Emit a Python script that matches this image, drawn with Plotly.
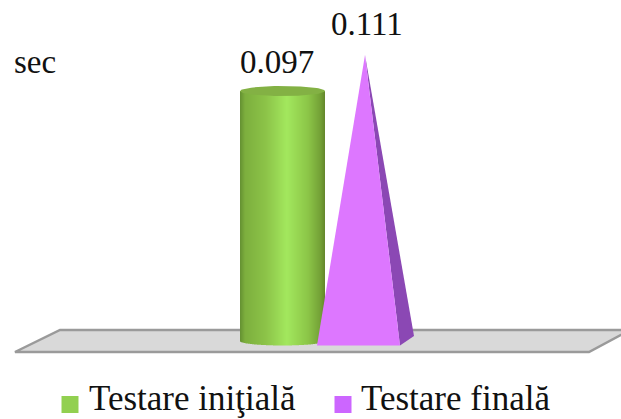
import numpy as np
import plotly.graph_objects as go

# Series values
series_names = ["Testare iniţială", "Testare finală"]
series_values = [0.097, 0.111]
value_labels = ["0.097", "0.111"]
unit_label = "sec"
legend_colors = ["#92D050", "#CC66FF"]

# Canvas and the vertical scale of the value axis (pixels per second)
W, H = 621, 419
SCALE = 2577.0
BASE_PX = 341.0


def dy(px):
    """Pixel distance expressed in axis units."""
    return px / SCALE


def py(px):
    """Pixel row expressed as an axis value."""
    return (BASE_PX - px) / SCALE


fig = go.Figure()

# Floor of the 3D scene
fig.add_shape(
    type="path",
    path=(f"M 15 {py(352)} L 60 {py(330)} L 630 {py(330)} "
          f"L 589 {py(352)} Z"),
    fillcolor="#D9D9D9",
    line=dict(color="#9A9A9A", width=2.5),
    layer="below",
)

# Cylinder: one-pixel vertical strips carrying the shading
cyl_left, cyl_right = 240, 325
strip_x = np.arange(cyl_left, cyl_right) + 0.5
cx = (cyl_left + cyl_right) / 2
rx = (cyl_right - cyl_left) / 2
t = (strip_x - cx) / rx
ry_bottom = 4.5
ry_top = 5.0

shade_pos = [0.0, 0.06, 0.3, 0.55, 0.8, 0.95, 1.0]
shade_r = [100, 125, 140, 163, 140, 115, 100]
shade_g = [145, 175, 195, 232, 198, 160, 135]
shade_b = [50, 62, 72, 94, 72, 54, 44]
u = (t + 1) / 2
strip_colors = [
    f"rgb({int(np.interp(v, shade_pos, shade_r))},"
    f"{int(np.interp(v, shade_pos, shade_g))},"
    f"{int(np.interp(v, shade_pos, shade_b))})"
    for v in u
]
strip_base = -dy(ry_bottom) * np.sqrt(1 - t ** 2)
strip_top = np.full_like(strip_x, series_values[0])
fig.add_trace(go.Bar(
    x=strip_x,
    y=strip_top - strip_base,
    base=strip_base,
    width=1.0,
    marker=dict(color=strip_colors, line=dict(width=0)),
    hoverinfo="skip",
))

# Cylinder cap
theta = np.linspace(0, 2 * np.pi, 90)
fig.add_trace(go.Scatter(
    x=cx + rx * np.cos(theta),
    y=series_values[0] + dy(ry_top) * np.sin(theta),
    mode="lines",
    line=dict(width=0),
    fill="toself",
    fillcolor="#83B144",
    hoverinfo="skip",
))

# Pyramid: side face, then front face, both rising to the series value
tip_x = 365
fig.add_trace(go.Scatter(
    x=[400, 414, tip_x, 400],
    y=[py(345.5), py(336), series_values[1], py(345.5)],
    mode="lines",
    line=dict(width=0),
    fill="toself",
    fillcolor="#8B48B4",
    hoverinfo="skip",
))
fig.add_trace(go.Scatter(
    x=[317, 400, tip_x, 317],
    y=[py(345.5), py(345.5), series_values[1], py(345.5)],
    mode="lines",
    line=dict(width=0),
    fill="toself",
    fillcolor="#DD77FF",
    hoverinfo="skip",
))

# Key below the scene: a square swatch and a caption for each series
key_swatch_x = [70, 343]
key_text_x = [88, 360]
fig.add_trace(go.Scatter(
    x=key_swatch_x,
    y=[py(404.5)] * 2,
    mode="markers",
    marker=dict(symbol="square", size=17, color=legend_colors, line=dict(width=0)),
    hoverinfo="skip",
))
for x, name in zip(key_text_x, series_names):
    fig.add_annotation(
        x=x, y=py(398.5), text=name, showarrow=False, xanchor="left", xshift=-1,
        yanchor="middle",
        font=dict(family="Liberation Serif", size=35, color="#111111"),
    )

# Value labels and the unit
label_font = dict(family="Liberation Serif", size=33, color="#111111")
for x, shift, value, text in zip([277, 367], [9, 11], series_values, value_labels):
    fig.add_annotation(
        x=x, y=value, text=text, showarrow=False, yshift=shift,
        yanchor="bottom", font=label_font,
    )
fig.add_annotation(
    x=13, y=py(62), text=unit_label, showarrow=False, xanchor="left", xshift=-1,
    yanchor="middle", font=label_font,
)

fig.update_layout(
    width=W,
    height=H,
    margin=dict(l=0, r=0, t=0, b=0),
    paper_bgcolor="white",
    plot_bgcolor="white",
    barmode="overlay",
    xaxis=dict(range=[0, W], visible=False, fixedrange=True),
    yaxis=dict(range=[py(H), py(0)], visible=False, fixedrange=True),
    showlegend=False,
)

fig.write_html("out.html")
